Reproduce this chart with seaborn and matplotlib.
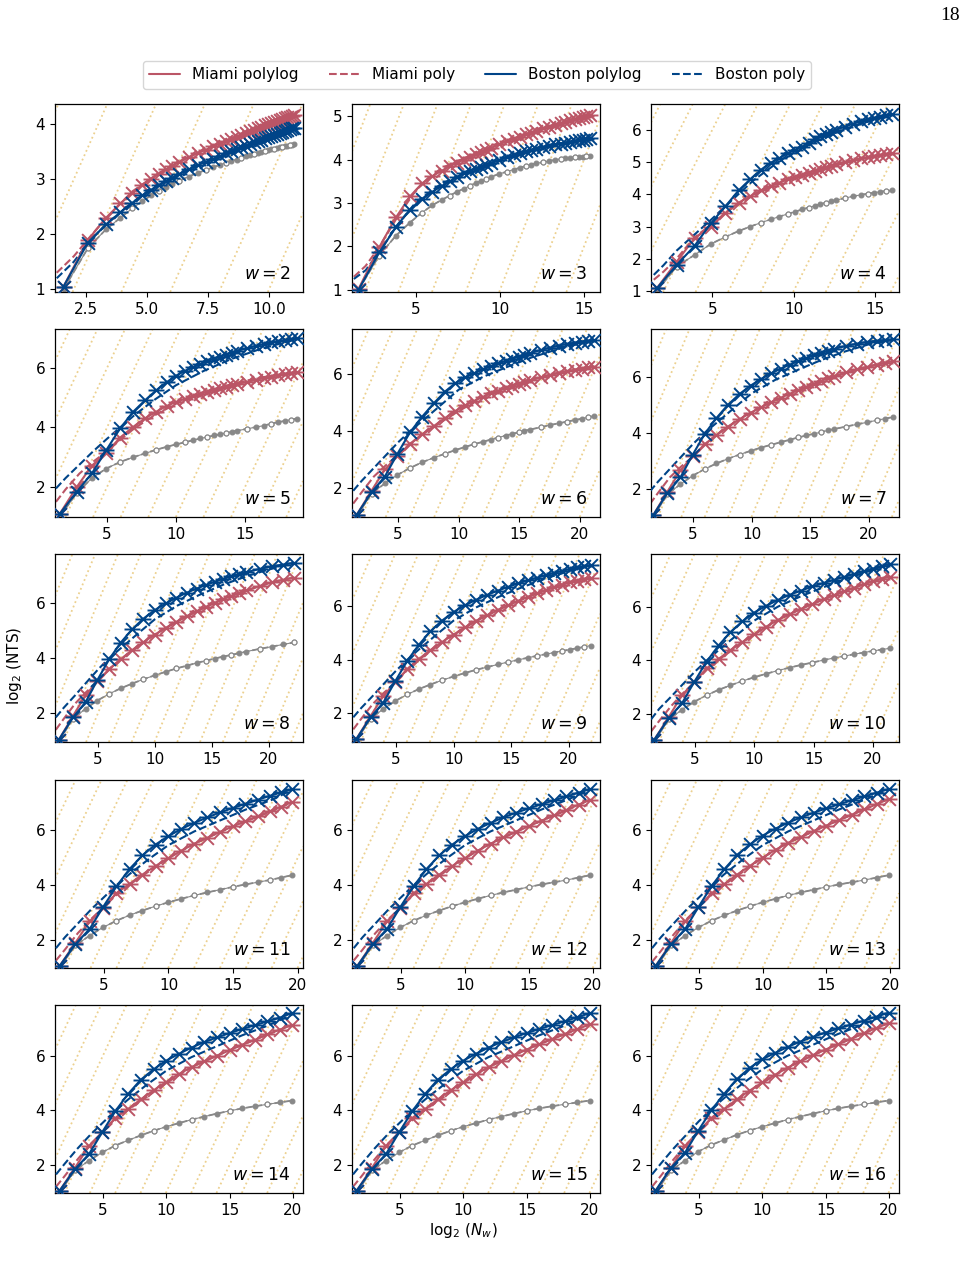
import matplotlib
matplotlib.use("Agg")
import matplotlib.pyplot as plt
import seaborn as sns
from matplotlib.lines import Line2D
from matplotlib.path import Path
from matplotlib.ticker import MultipleLocator

# panel widths w
widths = [2, 3, 4, 5, 6, 7, 8, 9, 10, 11, 12, 13, 14, 15, 16]

# log2(N_w) of each measured point
nw_log2 = {
    2: [1.58, 2.58, 3.32, 3.91, 4.39, 4.81, 5.17, 5.49, 5.78, 6.04, 6.29, 6.71, 7.09, 7.42, 7.71, 7.98, 8.23, 8.46, 8.67,
        8.86, 9.04, 9.22, 9.38, 9.53, 9.68, 9.82, 9.95, 10.08, 10.20, 10.32, 10.43, 10.54, 10.64, 10.74, 10.84, 10.93, 11.02],
    3: [1.58, 2.81, 3.81, 4.64, 5.36, 5.98, 6.52, 7.01, 7.45, 7.85, 8.22, 8.56, 8.87, 9.17, 9.44, 9.95, 10.40, 10.81, 11.18,
        11.53, 11.85, 12.14, 12.56, 12.93, 13.28, 13.60, 13.89, 14.17, 14.44, 14.68, 14.92, 15.14, 15.35],
    4: [1.58, 2.81, 3.91, 4.91, 5.81, 6.62, 7.34, 7.99, 8.59, 9.13, 9.63, 10.09, 10.52, 10.92, 11.30, 11.65, 11.98, 12.30,
        12.60, 13.15, 13.66, 14.13, 14.56, 14.96, 15.34, 15.69, 16.03],
    5: [1.58, 2.81, 3.91, 4.95, 5.95, 6.90, 7.77, 8.57, 9.32, 10.00, 10.63, 11.22, 11.76, 12.27, 12.75, 13.20, 13.62, 14.02,
        14.41, 15.11, 15.76, 16.35, 16.90, 17.41, 17.89, 18.34, 18.76],
    6: [1.58, 2.81, 3.91, 4.95, 5.98, 6.98, 7.94, 8.86, 9.73, 10.54, 11.29, 12.00, 12.66, 13.28, 13.86, 14.41, 14.93, 15.42,
        15.88, 16.75, 17.54, 18.26, 18.93, 19.55, 20.13, 20.68, 21.19],
    7: [1.58, 2.81, 3.91, 4.95, 5.98, 6.99, 7.99, 8.97, 9.92, 10.83, 11.69, 12.51, 13.27, 14.00, 14.68, 15.33, 15.94, 16.52,
        17.07, 18.10, 19.03, 19.89, 20.68, 21.42, 22.11],
    8: [1.58, 2.81, 3.91, 4.95, 5.98, 6.99, 7.99, 8.99, 9.98, 10.95, 11.89, 12.79, 13.66, 14.48, 15.26, 16.00, 16.70, 17.37,
        18.01, 19.20, 20.28, 21.27, 22.19],
    9: [1.58, 2.81, 3.91, 4.95, 5.98, 6.99, 7.99, 9.00, 10.00, 10.99, 11.97, 12.93, 13.86, 14.76, 15.63, 16.46, 17.25, 18.00,
        18.72, 19.41, 20.07, 20.70, 21.30, 21.88],
    10: [1.58, 2.81, 3.91, 4.95, 5.98, 6.99, 7.99, 9.00, 10.00, 11.00, 12.00, 12.98, 13.96, 14.91, 15.84, 16.74, 17.60,
         18.44, 19.23, 20.00, 20.73, 21.44],
    11: [1.58, 2.81, 3.91, 4.95, 5.98, 6.99, 7.99, 9.0, 10.0, 11.0, 12.0, 13.0, 13.99, 14.97, 15.94, 16.89, 17.82, 18.71, 19.58],
    12: [1.58, 2.81, 3.91, 4.95, 5.98, 6.99, 7.99, 9.0, 10.0, 11.0, 12.0, 13.0, 14.0, 15.0, 15.99, 16.96, 17.93, 18.87, 19.80],
    13: [1.58, 2.81, 3.91, 4.95, 5.98, 6.99, 7.99, 9.0, 10.0, 11.0, 12.0, 13.0, 14.0, 15.0, 16.0, 16.99, 17.98, 18.95, 19.91],
    14: [1.58, 2.81, 3.91, 4.95, 5.98, 6.99, 7.99, 9.0, 10.0, 11.0, 12.0, 13.0, 14.0, 15.0, 16.0, 17.0, 17.99, 18.99, 19.97],
    15: [1.58, 2.81, 3.91, 4.95, 5.98, 6.99, 7.99, 9.0, 10.0, 11.0, 12.0, 13.0, 14.0, 15.0, 16.0, 17.0, 18.0, 19.0, 19.99],
    16: [1.58, 2.81, 3.91, 4.95, 5.98, 6.99, 7.99, 9.0, 10.0, 11.0, 12.0, 13.0, 14.0, 15.0, 16.0, 17.0, 18.0, 19.0, 20.0],
}

# log2(NTS), Miami (measured points)
nts_miami = {
    2: [1.05, 1.9, 2.3, 2.56, 2.75, 2.9, 3.01, 3.1, 3.18, 3.25, 3.31, 3.4, 3.48, 3.54, 3.6, 3.65, 3.69, 3.73, 3.77, 3.81,
        3.84, 3.87, 3.9, 3.93, 3.95, 3.98, 4.0, 4.02, 4.04, 4.06, 4.08, 4.09, 4.11, 4.13, 4.14, 4.16, 4.17],
    3: [1.02, 1.98, 2.67, 3.15, 3.45, 3.62, 3.74, 3.85, 3.93, 4.0, 4.06, 4.12, 4.17, 4.22, 4.26, 4.35, 4.42, 4.48, 4.53,
        4.58, 4.62, 4.66, 4.72, 4.76, 4.8, 4.84, 4.87, 4.9, 4.93, 4.96, 4.98, 5.0, 5.03],
    4: [1.08, 1.91, 2.64, 3.0, 3.42, 3.74, 3.94, 4.12, 4.26, 4.36, 4.46, 4.53, 4.6, 4.67, 4.73, 4.79, 4.84, 4.89, 4.93,
        5.0, 5.06, 5.11, 5.15, 5.19, 5.22, 5.25, 5.27],
    5: [1.1, 2.0, 2.72, 3.15, 3.66, 4.02, 4.31, 4.53, 4.72, 4.86, 4.96, 5.05, 5.13, 5.2, 5.26, 5.32, 5.37, 5.42, 5.46,
        5.53, 5.6, 5.66, 5.71, 5.76, 5.8, 5.83, 5.86],
    6: [1.05, 1.9, 2.65, 3.12, 3.55, 3.88, 4.17, 4.45, 4.7, 4.9, 5.06, 5.2, 5.32, 5.42, 5.51, 5.59, 5.66, 5.72, 5.78,
        5.88, 5.97, 6.04, 6.1, 6.15, 6.19, 6.23, 6.26],
    7: [1.05, 1.9, 2.65, 3.15, 3.58, 3.92, 4.22, 4.48, 4.71, 4.91, 5.09, 5.25, 5.39, 5.52, 5.64, 5.75, 5.85, 5.94, 6.02,
        6.15, 6.26, 6.35, 6.43, 6.5, 6.55],
    8: [1.05, 1.9, 2.65, 3.15, 3.6, 3.95, 4.28, 4.57, 4.84, 5.09, 5.31, 5.51, 5.69, 5.85, 6.0, 6.13, 6.24, 6.34, 6.44,
        6.6, 6.73, 6.83, 6.91],
    9: [1.05, 1.9, 2.65, 3.15, 3.65, 4.02, 4.35, 4.65, 4.93, 5.2, 5.44, 5.65, 5.84, 6.02, 6.18, 6.33, 6.46, 6.58, 6.69,
        6.78, 6.87, 6.94, 7.0, 7.05],
    10: [1.05, 1.9, 2.7, 3.2, 3.7, 4.05, 4.38, 4.68, 4.97, 5.25, 5.5, 5.72, 5.92, 6.1, 6.27, 6.43, 6.58, 6.71, 6.84,
         6.95, 7.04, 7.12],
    11: [1.05, 1.9, 2.68, 3.18, 3.7, 4.04, 4.38, 4.69, 4.98, 5.25, 5.5, 5.72, 5.93, 6.13, 6.32, 6.5, 6.68, 6.85, 7.02],
    12: [1.05, 1.9, 2.68, 3.18, 3.7, 4.04, 4.38, 4.69, 4.98, 5.25, 5.5, 5.73, 5.94, 6.14, 6.34, 6.53, 6.73, 6.92, 7.1],
    13: [1.05, 1.9, 2.68, 3.2, 3.7, 4.04, 4.38, 4.7, 5.0, 5.28, 5.53, 5.75, 5.96, 6.16, 6.36, 6.56, 6.75, 6.94, 7.13],
    14: [1.05, 1.9, 2.7, 3.2, 3.72, 4.05, 4.4, 4.73, 5.04, 5.33, 5.58, 5.8, 6.0, 6.2, 6.4, 6.58, 6.78, 6.96, 7.13],
    15: [1.05, 1.9, 2.7, 3.2, 3.72, 4.05, 4.4, 4.73, 5.03, 5.32, 5.58, 5.81, 6.02, 6.22, 6.42, 6.61, 6.79, 6.97, 7.15],
    16: [1.05, 1.9, 2.7, 3.2, 3.72, 4.05, 4.4, 4.72, 5.02, 5.3, 5.56, 5.8, 6.02, 6.22, 6.42, 6.62, 6.82, 7.01, 7.2],
}

# log2(NTS), Boston (measured points)
nts_boston = {
    2: [1.05, 1.85, 2.18, 2.4, 2.57, 2.71, 2.81, 2.9, 2.97, 3.03, 3.09, 3.18, 3.26, 3.32, 3.37, 3.42, 3.47, 3.51, 3.55,
        3.58, 3.61, 3.64, 3.67, 3.7, 3.72, 3.75, 3.77, 3.79, 3.81, 3.83, 3.85, 3.86, 3.88, 3.9, 3.91, 3.93, 3.94],
    3: [1.0, 1.86, 2.45, 2.85, 3.1, 3.26, 3.39, 3.5, 3.6, 3.68, 3.74, 3.79, 3.84, 3.88, 3.92, 3.98, 4.05, 4.1, 4.15,
        4.19, 4.22, 4.25, 4.29, 4.32, 4.35, 4.37, 4.39, 4.41, 4.43, 4.45, 4.46, 4.48, 4.49],
    4: [1.08, 1.81, 2.4, 3.1, 3.63, 4.12, 4.47, 4.76, 4.98, 5.12, 5.27, 5.38, 5.48, 5.6, 5.72, 5.8, 5.87, 5.94, 6.0,
        6.1, 6.19, 6.26, 6.32, 6.37, 6.41, 6.45, 6.48],
    5: [1.1, 1.84, 2.46, 3.24, 3.97, 4.53, 4.92, 5.25, 5.52, 5.74, 5.9, 6.02, 6.13, 6.23, 6.31, 6.38, 6.45, 6.51, 6.57,
        6.66, 6.74, 6.8, 6.86, 6.9, 6.94, 6.97, 7.0],
    6: [1.05, 1.85, 2.4, 3.2, 3.95, 4.5, 4.97, 5.38, 5.68, 5.88, 6.03, 6.16, 6.27, 6.37, 6.46, 6.54, 6.61, 6.67, 6.73,
        6.84, 6.93, 7.0, 7.06, 7.1, 7.14, 7.17, 7.19],
    7: [1.05, 1.85, 2.4, 3.2, 3.95, 4.52, 5.0, 5.38, 5.68, 5.92, 6.12, 6.29, 6.43, 6.55, 6.66, 6.76, 6.84, 6.92, 6.99,
        7.1, 7.18, 7.24, 7.28, 7.31, 7.33],
    8: [1.05, 1.85, 2.4, 3.2, 3.95, 4.55, 5.03, 5.42, 5.73, 5.97, 6.18, 6.36, 6.51, 6.64, 6.76, 6.86, 6.95, 7.03, 7.1,
        7.22, 7.31, 7.38, 7.44],
    9: [1.05, 1.85, 2.4, 3.2, 3.95, 4.55, 5.05, 5.45, 5.77, 6.02, 6.23, 6.41, 6.57, 6.71, 6.84, 6.95, 7.05, 7.14, 7.23,
        7.3, 7.37, 7.43, 7.48, 7.52],
    10: [1.05, 1.85, 2.4, 3.2, 3.95, 4.55, 5.05, 5.45, 5.78, 6.03, 6.25, 6.44, 6.6, 6.75, 6.88, 7.0, 7.11, 7.22, 7.32,
         7.42, 7.51, 7.6],
    11: [1.05, 1.85, 2.4, 3.2, 3.95, 4.58, 5.08, 5.47, 5.78, 6.04, 6.26, 6.46, 6.64, 6.8, 6.95, 7.1, 7.24, 7.37, 7.49],
    12: [1.05, 1.85, 2.4, 3.2, 3.95, 4.58, 5.08, 5.47, 5.78, 6.04, 6.26, 6.46, 6.63, 6.79, 6.94, 7.08, 7.22, 7.36, 7.49],
    13: [1.05, 1.85, 2.4, 3.2, 3.96, 4.58, 5.1, 5.48, 5.8, 6.05, 6.27, 6.46, 6.63, 6.79, 6.94, 7.08, 7.22, 7.36, 7.49],
    14: [1.05, 1.85, 2.4, 3.2, 3.97, 4.6, 5.12, 5.5, 5.82, 6.07, 6.3, 6.5, 6.67, 6.83, 6.98, 7.12, 7.26, 7.4, 7.57],
    15: [1.05, 1.85, 2.4, 3.2, 3.97, 4.6, 5.12, 5.5, 5.82, 6.07, 6.3, 6.5, 6.67, 6.83, 6.98, 7.12, 7.26, 7.41, 7.56],
    16: [1.05, 1.9, 2.45, 3.25, 4.0, 4.6, 5.14, 5.55, 5.87, 6.1, 6.32, 6.52, 6.69, 6.85, 7.0, 7.14, 7.28, 7.43, 7.58],
}

# log2(NTS), grey reference series
nts_lower = {
    2: [1.0, 1.75, 2.09, 2.3, 2.47, 2.6, 2.71, 2.79, 2.86, 2.92, 2.97, 3.05, 3.12, 3.17, 3.22, 3.26, 3.3, 3.33, 3.36,
        3.39, 3.42, 3.44, 3.46, 3.48, 3.5, 3.52, 3.53, 3.55, 3.56, 3.57, 3.58, 3.59, 3.6, 3.61, 3.62, 3.63, 3.64],
    3: [1.0, 1.79, 2.25, 2.55, 2.78, 2.95, 3.07, 3.17, 3.26, 3.33, 3.4, 3.46, 3.51, 3.56, 3.6, 3.67, 3.72, 3.77, 3.81,
        3.85, 3.88, 3.91, 3.94, 3.97, 3.99, 4.01, 4.03, 4.04, 4.05, 4.06, 4.07, 4.08, 4.09],
    4: [1.0, 1.76, 2.12, 2.46, 2.68, 2.86, 3.0, 3.12, 3.22, 3.31, 3.39, 3.46, 3.53, 3.59, 3.64, 3.69, 3.74, 3.78, 3.82,
        3.88, 3.94, 3.98, 4.02, 4.05, 4.08, 4.1, 4.12],
    5: [1.0, 1.8, 2.3, 2.62, 2.84, 3.0, 3.13, 3.25, 3.35, 3.43, 3.5, 3.57, 3.63, 3.68, 3.73, 3.77, 3.81, 3.85, 3.89,
        3.95, 4.01, 4.06, 4.13, 4.18, 4.22, 4.26, 4.3],
    6: [1.0, 1.8, 2.16, 2.46, 2.7, 2.9, 3.06, 3.2, 3.33, 3.44, 3.54, 3.62, 3.7, 3.77, 3.84, 3.9, 3.95, 4.0, 4.05,
        4.13, 4.21, 4.27, 4.33, 4.38, 4.43, 4.48, 4.53],
    7: [1.0, 1.8, 2.16, 2.46, 2.7, 2.9, 3.07, 3.22, 3.35, 3.47, 3.57, 3.66, 3.75, 3.83, 3.9, 3.96, 4.02, 4.08, 4.13,
        4.22, 4.3, 4.37, 4.44, 4.5, 4.56],
    8: [1.0, 1.8, 2.16, 2.46, 2.7, 2.9, 3.07, 3.23, 3.37, 3.5, 3.62, 3.72, 3.82, 3.9, 3.98, 4.05, 4.11, 4.17, 4.23,
        4.33, 4.41, 4.49, 4.56],
    9: [1.0, 1.8, 2.16, 2.46, 2.7, 2.9, 3.07, 3.23, 3.37, 3.5, 3.62, 3.72, 3.82, 3.91, 3.99, 4.07, 4.14, 4.2, 4.26,
        4.32, 4.37, 4.42, 4.47, 4.52],
    10: [1.0, 1.8, 2.16, 2.46, 2.7, 2.9, 3.07, 3.23, 3.37, 3.5, 3.62, 3.73, 3.83, 3.92, 4.01, 4.09, 4.16, 4.23, 4.29,
         4.35, 4.4, 4.45],
    11: [1.0, 1.8, 2.16, 2.46, 2.7, 2.9, 3.07, 3.23, 3.37, 3.5, 3.62, 3.73, 3.83, 3.93, 4.02, 4.1, 4.18, 4.27, 4.36],
    12: [1.0, 1.8, 2.16, 2.46, 2.7, 2.9, 3.07, 3.23, 3.37, 3.5, 3.62, 3.73, 3.83, 3.93, 4.02, 4.1, 4.18, 4.27, 4.36],
    13: [1.0, 1.8, 2.16, 2.46, 2.7, 2.9, 3.07, 3.23, 3.37, 3.5, 3.62, 3.73, 3.83, 3.93, 4.02, 4.1, 4.18, 4.27, 4.36],
    14: [1.0, 1.8, 2.16, 2.46, 2.71, 2.9, 3.08, 3.25, 3.4, 3.53, 3.66, 3.77, 3.88, 3.98, 4.07, 4.15, 4.22, 4.29, 4.36],
    15: [1.0, 1.8, 2.16, 2.46, 2.71, 2.9, 3.08, 3.25, 3.4, 3.53, 3.66, 3.77, 3.88, 3.98, 4.07, 4.15, 4.22, 4.29, 4.36],
    16: [1.0, 1.8, 2.16, 2.49, 2.73, 2.92, 3.1, 3.26, 3.4, 3.53, 3.66, 3.77, 3.88, 3.98, 4.07, 4.15, 4.22, 4.29, 4.36],
}

# "poly" fit curves (dashed)
poly_x = {
    2: [1.3, 2.0, 2.6, 3.3, 4.4, 5.5, 7.0, 8.5, 10.0, 11.1],
    3: [1.3, 2.0, 2.8, 3.8, 5.0, 6.5, 8.5, 10.5, 12.5, 15.4],
    4: [1.4, 2.0, 2.8, 3.9, 4.9, 6.0, 7.5, 9.0, 11.0, 13.0, 16.0],
    5: [1.3, 2, 3, 4, 5, 6, 7, 8.5, 10, 12, 14, 16, 18.8],
    6: [1.3, 2, 3, 4, 5, 6, 7, 8.5, 10, 12, 14, 16, 18, 20, 21.2],
    7: [1.3, 2, 3, 4, 5, 6, 7, 8.5, 10, 12, 14, 16, 18, 20, 22.1],
    8: [1.3, 2, 3, 4, 5, 6, 7, 8.5, 10, 12, 14, 16, 18, 20, 22.2],
    9: [1.3, 2, 3, 4, 5, 6, 7, 8.5, 10, 12, 14, 16, 18, 20, 21.9],
    10: [1.3, 2, 3, 4, 5, 6, 7, 8.5, 10, 12, 14, 16, 18, 20, 21.4],
    11: [1.3, 2, 3, 4, 5, 6, 7, 8.5, 10, 12, 14, 16, 18, 19.6],
    12: [1.3, 2, 3, 4, 5, 6, 7, 8.5, 10, 12, 14, 16, 18, 19.8],
    13: [1.3, 2, 3, 4, 5, 6, 7, 8.5, 10, 12, 14, 16, 18, 19.9],
    14: [1.3, 2, 3, 4, 5, 6, 7, 8.5, 10, 12, 14, 16, 18, 20.0],
    15: [1.3, 2, 3, 4, 5, 6, 7, 8.5, 10, 12, 14, 16, 18, 20.0],
    16: [1.3, 2, 3, 4, 5, 6, 7, 8.5, 10, 12, 14, 16, 18, 20.0],
}
miami_poly = {
    2: [1.3, 1.6, 1.92, 2.28, 2.78, 3.12, 3.47, 3.75, 4.0, 4.18],
    3: [1.3, 1.55, 1.98, 2.62, 3.3, 3.8, 4.14, 4.44, 4.7, 5.03],
    4: [1.35, 1.6, 2.0, 2.66, 3.05, 3.5, 3.96, 4.33, 4.68, 4.98, 5.27],
    5: [1.5, 1.92, 2.45, 2.85, 3.2, 3.6, 3.98, 4.42, 4.8, 5.17, 5.45, 5.67, 5.86],
    6: [1.45, 1.85, 2.4, 2.8, 3.15, 3.55, 3.88, 4.3, 4.7, 5.18, 5.53, 5.8, 6.02, 6.18, 6.26],
    7: [1.45, 1.85, 2.4, 2.8, 3.15, 3.58, 3.92, 4.35, 4.72, 5.13, 5.5, 5.83, 6.12, 6.36, 6.55],
    8: [1.4, 1.8, 2.35, 2.78, 3.15, 3.6, 3.95, 4.4, 4.85, 5.33, 5.75, 6.13, 6.44, 6.7, 6.9],
    9: [1.4, 1.8, 2.35, 2.78, 3.15, 3.62, 4.0, 4.47, 4.93, 5.45, 5.88, 6.26, 6.6, 6.88, 7.05],
    10: [1.35, 1.75, 2.3, 2.78, 3.18, 3.65, 4.02, 4.5, 4.97, 5.5, 5.93, 6.3, 6.63, 6.95, 7.12],
    11: [1.25, 1.65, 2.25, 2.75, 3.2, 3.65, 4.02, 4.5, 4.98, 5.5, 5.93, 6.32, 6.68, 7.02],
    12: [1.25, 1.65, 2.25, 2.75, 3.2, 3.65, 4.02, 4.5, 4.98, 5.5, 5.94, 6.34, 6.73, 7.1],
    13: [1.2, 1.6, 2.2, 2.75, 3.2, 3.65, 4.02, 4.5, 5.0, 5.53, 5.96, 6.36, 6.75, 7.13],
    14: [1.2, 1.6, 2.2, 2.75, 3.2, 3.65, 4.02, 4.5, 5.0, 5.58, 6.0, 6.4, 6.78, 7.13],
    15: [1.2, 1.6, 2.2, 2.75, 3.2, 3.65, 4.02, 4.5, 5.0, 5.58, 6.02, 6.42, 6.79, 7.15],
    16: [1.2, 1.6, 2.2, 2.75, 3.2, 3.65, 4.02, 4.5, 5.0, 5.56, 6.02, 6.42, 6.82, 7.2],
}
boston_poly = {
    2: [1.2, 1.5, 1.85, 2.17, 2.58, 2.9, 3.23, 3.5, 3.77, 3.95],
    3: [1.25, 1.45, 1.86, 2.45, 3.02, 3.44, 3.79, 4.07, 4.3, 4.5],
    4: [1.5, 1.8, 2.25, 2.75, 3.2, 3.72, 4.42, 4.98, 5.55, 6.0, 6.48],
    5: [1.95, 2.3, 2.75, 3.2, 3.62, 4.02, 4.42, 4.95, 5.42, 5.9, 6.3, 6.62, 6.98],
    6: [1.9, 2.25, 2.7, 3.15, 3.6, 4.0, 4.35, 4.9, 5.45, 5.9, 6.25, 6.58, 6.85, 7.07, 7.17],
    7: [1.9, 2.25, 2.7, 3.15, 3.6, 4.0, 4.35, 4.88, 5.4, 5.88, 6.25, 6.6, 6.9, 7.15, 7.31],
    8: [1.85, 2.2, 2.65, 3.12, 3.58, 4.0, 4.35, 4.88, 5.4, 5.9, 6.3, 6.65, 6.95, 7.2, 7.42],
    9: [1.85, 2.2, 2.65, 3.12, 3.58, 4.0, 4.38, 4.92, 5.45, 5.95, 6.35, 6.7, 7.02, 7.3, 7.5],
    10: [1.8, 2.2, 2.65, 3.12, 3.58, 4.0, 4.38, 4.93, 5.48, 6.0, 6.4, 6.75, 7.07, 7.38, 7.58],
    11: [1.7, 2.1, 2.6, 3.1, 3.55, 4.0, 4.4, 4.95, 5.45, 5.95, 6.35, 6.75, 7.1, 7.47],
    12: [1.7, 2.1, 2.6, 3.1, 3.55, 4.0, 4.4, 4.95, 5.45, 5.95, 6.35, 6.75, 7.1, 7.47],
    13: [1.7, 2.1, 2.6, 3.1, 3.55, 4.0, 4.4, 4.95, 5.45, 5.95, 6.35, 6.75, 7.1, 7.47],
    14: [1.65, 2.05, 2.6, 3.1, 3.55, 4.0, 4.4, 4.95, 5.45, 5.95, 6.35, 6.75, 7.1, 7.52],
    15: [1.65, 2.05, 2.6, 3.1, 3.55, 4.0, 4.4, 4.95, 5.45, 5.95, 6.35, 6.75, 7.1, 7.52],
    16: [1.65, 2.05, 2.6, 3.1, 3.6, 4.05, 4.45, 5.0, 5.5, 6.0, 6.4, 6.8, 7.15, 7.55],
}

# axis limits
x_limits = {2: (1.23, 11.39), 3: (1.19, 15.95), 4: (1.23, 16.48), 5: (1.23, 19.2), 6: (1.2, 21.65),
            7: (1.4, 22.6), 8: (1.23, 23.0), 9: (1.19, 22.7), 10: (1.3, 22.2), 11: (1.23, 20.4),
            12: (1.17, 20.55), 13: (1.22, 20.7), 14: (1.22, 20.8), 15: (1.22, 20.8), 16: (1.22, 20.8)}
y_limits = {2: (0.95, 4.37), 3: (0.95, 5.28), 4: (0.97, 6.8), 5: (0.99, 7.31), 6: (0.98, 7.58),
            7: (0.99, 7.7), 8: (0.96, 7.76), 9: (0.93, 7.93), 10: (0.96, 7.96), 11: (0.98, 7.82),
            12: (0.98, 7.82), 13: (0.98, 7.82), 14: (0.97, 7.86), 15: (0.97, 7.86), 16: (0.97, 7.86)}

# background guide lines (slope and intercepts)
guide_slope = 1.0
guide_offsets = [-25, -23, -21, -19, -17, -15, -13, -11, -9, -7, -5, -3, -1, 1, 3, 5]

MIAMI = "#BB5566"
BOSTON = "#004488"
GUIDE = "#DDAA33"
GREY = "#888888"

sns.set_style("ticks", {"axes.edgecolor": "black", "xtick.color": "black", "ytick.color": "black",
                        "text.color": "black", "axes.labelcolor": "black"})
plt.rcParams["font.family"] = ["DejaVu Sans"]
plt.rcParams["font.size"] = 11
plt.rcParams["mathtext.fontset"] = "dejavusans"

# asterisk-like marker: an x with a horizontal bar
star = Path([(-1, -1), (1, 1), (-1, 1), (1, -1), (-1.25, 0), (1.25, 0)],
            [Path.MOVETO, Path.LINETO, Path.MOVETO, Path.LINETO, Path.MOVETO, Path.LINETO])

fig = plt.figure(figsize=(9.67, 12.8), dpi=100)
col_left = [55, 352, 651]
row_top = [104, 329, 554, 780, 1005]

for i, w in enumerate(widths):
    r, c = divmod(i, 3)
    ax = fig.add_axes([col_left[c] / 967, 1 - (row_top[r] + 188) / 1280, 248 / 967, 188 / 1280])

    for off in guide_offsets:
        ax.axline((0, off), slope=guide_slope, color=GUIDE, alpha=0.55, lw=1.3, ls=":", zorder=0)

    x = nw_log2[w]
    # grey reference
    sns.lineplot(x=x, y=nts_lower[w], ax=ax, estimator=None, sort=False, color=GREY, linewidth=1.3,
                 linestyle="--", marker="o", markersize=3.5, markerfacecolor=GREY,
                 markeredgecolor=GREY, markeredgewidth=0.8, zorder=2)
    sns.lineplot(x=x, y=nts_lower[w], ax=ax, estimator=None, sort=False, color=GREY, linewidth=0.8,
                 marker="o", markersize=3.5, markerfacecolor="white", markeredgecolor=GREY,
                 markeredgewidth=0.8, markevery=(1, 3), zorder=2.1)

    # poly fits
    sns.lineplot(x=poly_x[w], y=miami_poly[w], ax=ax, estimator=None, sort=False, color=MIAMI,
                 linewidth=1.5, linestyle="--", zorder=2.5)
    sns.lineplot(x=poly_x[w], y=boston_poly[w], ax=ax, estimator=None, sort=False, color=BOSTON,
                 linewidth=1.5, linestyle="--", zorder=2.6)

    # polylog with measured points
    sns.lineplot(x=x, y=nts_miami[w], ax=ax, estimator=None, sort=False, color=MIAMI, linewidth=1.5,
                 marker=star, markersize=11.5, markerfacecolor="none", markeredgecolor=MIAMI,
                 markeredgewidth=1.4, zorder=3)
    sns.lineplot(x=x, y=nts_boston[w], ax=ax, estimator=None, sort=False, color=BOSTON, linewidth=1.5,
                 marker=star, markersize=11.5, markerfacecolor="none", markeredgecolor=BOSTON,
                 markeredgewidth=1.4, zorder=3.5)

    ax.set_xlim(*x_limits[w])
    ax.set_ylim(*y_limits[w])
    ax.xaxis.set_major_locator(MultipleLocator(2.5 if w == 2 else 5))
    ax.yaxis.set_major_locator(MultipleLocator(1 if w <= 4 else 2))
    ax.set_xlabel("")
    ax.set_ylabel("")
    for s in ax.spines.values():
        s.set_visible(True)
        s.set_linewidth(0.9)
        s.set_color("black")
    ax.tick_params(labelsize=11, length=3.5, width=0.8)
    ax.text(0.95, 0.05, f"$w = {w}$", transform=ax.transAxes, ha="right", va="bottom", fontsize=12.5)

handles = [
    Line2D([], [], color=MIAMI, lw=1.5, label="Miami polylog"),
    Line2D([], [], color=MIAMI, lw=1.5, ls="--", label="Miami poly"),
    Line2D([], [], color=BOSTON, lw=1.5, label="Boston polylog"),
    Line2D([], [], color=BOSTON, lw=1.5, ls="--", label="Boston poly"),
]
fig.legend(handles=handles, loc="center", bbox_to_anchor=(477 / 967, 1 - 75 / 1280), ncol=4,
           fontsize=11, frameon=True, edgecolor="#cccccc")

fig.text(15 / 967, 1 - 666 / 1280, r"$\log_2\,(\mathrm{NTS})$", rotation=90, ha="center", va="center",
         fontsize=11)
fig.text(463 / 967, 1 - 1230 / 1280, r"$\log_2\,(N_w)$", ha="center", va="center", fontsize=11)
fig.text(960 / 967, 1 - 15 / 1280, "18", ha="right", va="center", family="Liberation Serif", fontsize=14)

fig.savefig("out.png", dpi=100)
